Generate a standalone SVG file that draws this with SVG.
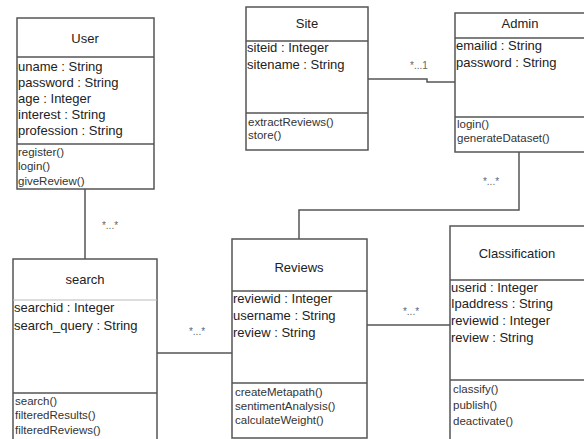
<svg xmlns="http://www.w3.org/2000/svg" width="584" height="439" viewBox="0 0 584 439">
<style>
.box{fill:#fff;stroke:#555;stroke-width:1.5}
.div{stroke:#555;stroke-width:1.5}
.lt{stroke:#bbb;stroke-width:1}
.t{font-family:"Liberation Sans",Arial,sans-serif;font-size:13px;fill:#222;text-anchor:middle}
.a{font-family:"Liberation Sans",Arial,sans-serif;font-size:13px;fill:#222}
.m{font-family:"Liberation Sans",Arial,sans-serif;font-size:11.5px;fill:#333}
.c{fill:none;stroke:#555;stroke-width:1.5}
.l{font-family:"Liberation Sans",Arial,sans-serif;font-size:10px;fill:#666;text-anchor:middle}
</style>
<rect width="584" height="439" fill="#fff"/>
<g id="connectors">
<line class="c" x1="85" y1="189" x2="85" y2="259"/>
<line class="c" x1="157" y1="353" x2="232" y2="353"/>
<polyline class="c" points="299,239 299,210 519,210 519,152"/>
<line class="c" x1="367" y1="325" x2="450" y2="325"/>
<polyline class="c" points="368,79 427,79 427,82 455,82"/>
<text class="l" x="110" y="229">*...*</text>
<text class="l" x="197" y="335">*...*</text>
<text class="l" x="411" y="315">*...*</text>
<text class="l" x="491" y="185">*...*</text>
<text class="l" x="419" y="69">*...1</text>
</g>
<g id="User">
<rect class="box" x="17" y="18" width="137" height="171"/>
<line class="div" x1="17" y1="57" x2="154" y2="57"/>
<line class="div" x1="17" y1="144" x2="154" y2="144"/>
<text class="t" x="85" y="43">User</text>
<text class="a" x="18" y="71">uname : String</text>
<text class="a" x="18" y="87">password : String</text>
<text class="a" x="18" y="103">age : Integer</text>
<text class="a" x="18" y="119">interest : String</text>
<text class="a" x="18" y="135">profession : String</text>
<text class="m" x="18" y="156">register()</text>
<text class="m" x="18" y="170">login()</text>
<text class="m" x="18" y="185">giveReview()</text>
</g>
<g id="Site">
<rect class="box" x="246" y="7" width="122" height="143"/>
<line class="div" x1="246" y1="41" x2="368" y2="41"/>
<line class="div" x1="246" y1="113" x2="368" y2="113"/>
<text class="t" x="307" y="28">Site</text>
<text class="a" x="247" y="52">siteid : Integer</text>
<text class="a" x="247" y="69">sitename : String</text>
<text class="m" x="248" y="126">extractReviews()</text>
<text class="m" x="248" y="139">store()</text>
</g>
<g id="Admin">
<rect class="box" x="455" y="13" width="140" height="139"/>
<line class="div" x1="455" y1="38" x2="595" y2="38"/>
<line class="div" x1="455" y1="117" x2="595" y2="117"/>
<text class="t" x="520" y="28">Admin</text>
<text class="a" x="456" y="50">emailid : String</text>
<text class="a" x="456" y="67">password : String</text>
<text class="m" x="457" y="128">login()</text>
<text class="m" x="457" y="142">generateDataset()</text>
</g>
<g id="search">
<rect class="box" x="13" y="259" width="144" height="190"/>
<line class="lt" x1="13" y1="300" x2="157" y2="300"/>
<line class="div" x1="13" y1="393" x2="157" y2="393"/>
<text class="t" x="85" y="284">search</text>
<text class="a" x="14" y="312">searchid : Integer</text>
<text class="a" x="14" y="330">search_query : String</text>
<text class="m" x="15" y="405">search()</text>
<text class="m" x="15" y="419">filteredResults()</text>
<text class="m" x="15" y="434">filteredReviews()</text>
</g>
<g id="Reviews">
<rect class="box" x="232" y="239" width="135" height="199"/>
<line class="div" x1="232" y1="291" x2="367" y2="291"/>
<line class="div" x1="232" y1="383" x2="367" y2="383"/>
<text class="t" x="299" y="272">Reviews</text>
<text class="a" x="233" y="303">reviewid : Integer</text>
<text class="a" x="233" y="320">username : String</text>
<text class="a" x="233" y="337">review : String</text>
<text class="m" x="235" y="396">createMetapath()</text>
<text class="m" x="235" y="410">sentimentAnalysis()</text>
<text class="m" x="235" y="424">calculateWeight()</text>
</g>
<g id="Classification">
<rect class="box" x="450" y="226" width="145" height="223"/>
<line class="div" x1="450" y1="280" x2="595" y2="280"/>
<line class="div" x1="450" y1="380" x2="595" y2="380"/>
<text class="t" x="517" y="258">Classification</text>
<text class="a" x="451" y="292">userid : Integer</text>
<text class="a" x="451" y="308">Ipaddress : String</text>
<text class="a" x="451" y="325">reviewid : Integer</text>
<text class="a" x="451" y="342">review : String</text>
<text class="m" x="453" y="393">classify()</text>
<text class="m" x="453" y="409">publish()</text>
<text class="m" x="453" y="425">deactivate()</text>
</g>
</svg>
